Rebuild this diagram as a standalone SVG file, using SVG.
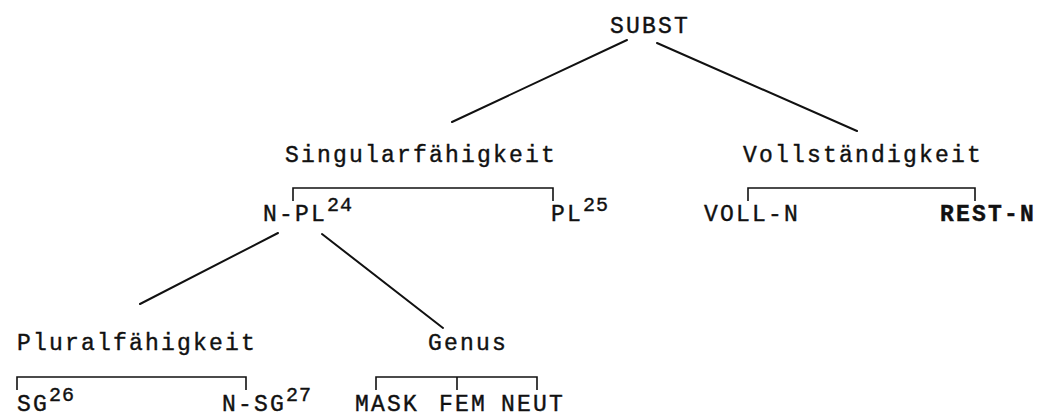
<svg xmlns="http://www.w3.org/2000/svg" width="1051" height="416" viewBox="0 0 1051 416">
<style>
text{font-family:"Liberation Mono","DejaVu Sans Mono",monospace;font-size:23px;letter-spacing:2.2px;fill:#111;stroke:#111;stroke-width:0.4}
.b{font-weight:bold}
.sup{font-size:20px;letter-spacing:1px}
.edge{stroke:#111;stroke-width:2;fill:none;stroke-linecap:round}
.br{stroke:#111;stroke-width:1.6;fill:none}
</style>
<rect width="1051" height="416" fill="#fff"/>
<g id="connectors">
<line class="edge" x1="627" y1="40" x2="452" y2="122"/>
<line class="edge" x1="657" y1="43" x2="857" y2="131"/>
<line class="edge" x1="278" y1="233" x2="140" y2="304"/>
<line class="edge" x1="322" y1="234" x2="443" y2="328"/>
<path class="br" d="M293,201 V188 H553 V201"/>
<path class="br" d="M748,201 V188 H975 V201"/>
<path class="br" d="M17,390 V377 H246 V390"/>
<path class="br" d="M376,390 V377 H537 V390 M457,377 V390"/>
</g>
<g id="subst"><text x="610" y="33">SUBST</text></g>
<g id="singular"><text x="285" y="162">Singularfähigkeit</text></g>
<g id="voll"><text x="743" y="162">Vollständigkeit</text></g>
<g id="npl"><text x="263" y="221">N-PL<tspan class="sup" dy="-10">24</tspan></text></g>
<g id="pl"><text x="551" y="221">PL<tspan class="sup" dy="-10">25</tspan></text></g>
<g id="volln"><text x="704" y="221">VOLL-N</text></g>
<g id="restn"><text x="940" y="221" class="b">REST-N</text></g>
<g id="plural"><text x="17" y="350">Pluralfähigkeit</text></g>
<g id="genus"><text x="428" y="350">Genus</text></g>
<g id="sg"><text x="17" y="411">SG<tspan class="sup" dy="-10">26</tspan></text></g>
<g id="nsg"><text x="222" y="411">N-SG<tspan class="sup" dy="-10">27</tspan></text></g>
<g id="mask"><text x="387" y="411" text-anchor="middle">MASK</text></g>
<g id="fem"><text x="463" y="411" text-anchor="middle">FEM</text></g>
<g id="neut"><text x="533" y="411" text-anchor="middle">NEUT</text></g>
</svg>
